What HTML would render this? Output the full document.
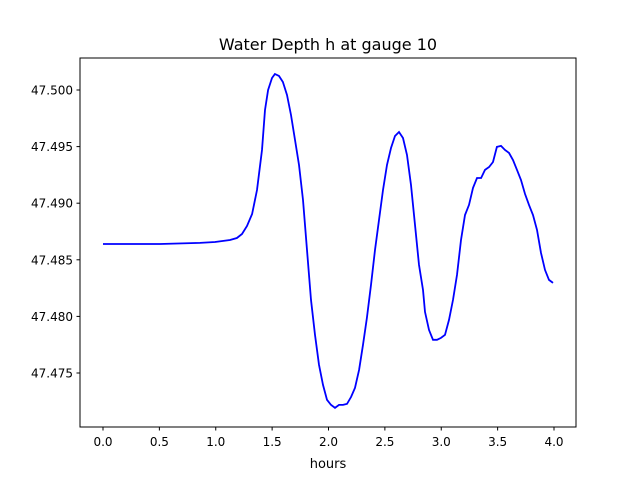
<!DOCTYPE html>
<html><head><meta charset="utf-8"><style>
body{margin:0;background:#fff;}
svg text{font-family:"DejaVu Sans","Liberation Sans",sans-serif;}
</style></head><body>
<svg id="chart" width="640" height="480" viewBox="0 0 640 480">
<rect width="640" height="480" fill="#fff"/>
<text x="328" y="50" font-size="16" text-anchor="middle">Water Depth h at gauge 10</text>
<g id="xt"></g>
<g id="yt"></g>
<polyline id="line" fill="none" stroke="#0000ff" stroke-width="1.8"/>
<rect x="80" y="58" width="496" height="369" fill="none" stroke="#000" stroke-width="1"/>
<text x="328" y="468" font-size="13" text-anchor="middle">hours</text>
</svg>
<script>
const timeHours=[0,0.506,0.860,0.993,1.126,1.188,1.233,1.277,1.322,1.366,1.410,1.437,1.464,1.499,1.525,1.561,1.596,1.632,1.667,1.703,1.738,1.774,1.809,1.845,1.880,1.916,1.951,1.987,2.022,2.058,2.093,2.129,2.164,2.200,2.235,2.271,2.306,2.341,2.377,2.412,2.448,2.483,2.519,2.554,2.590,2.625,2.661,2.696,2.732,2.767,2.803,2.838,2.856,2.891,2.927,2.962,2.998,3.033,3.069,3.104,3.140,3.175,3.211,3.246,3.282,3.317,3.353,3.388,3.424,3.459,3.494,3.530,3.565,3.601,3.636,3.672,3.707,3.743,3.778,3.814,3.849,3.885,3.920,3.956,3.991];
const depth=[47.48640,47.48640,47.48649,47.48657,47.48675,47.48693,47.48728,47.48799,47.48905,47.49117,47.49470,47.49823,47.50000,47.50106,47.50141,47.50124,47.50071,47.49956,47.49779,47.49559,47.49338,47.49029,47.48587,47.48146,47.47837,47.47572,47.47395,47.47263,47.47218,47.47192,47.47218,47.47218,47.47227,47.47289,47.47369,47.47528,47.47749,47.47987,47.48278,47.48587,47.48852,47.49117,47.49338,47.49488,47.49594,47.49629,47.49576,47.49426,47.49161,47.48808,47.48455,47.48234,47.48040,47.47881,47.47793,47.47793,47.47810,47.47837,47.47969,47.48146,47.48367,47.48675,47.48896,47.48985,47.49135,47.49223,47.49223,47.49294,47.49320,47.49364,47.49497,47.49506,47.49470,47.49444,47.49382,47.49294,47.49205,47.49082,47.48985,47.48896,47.48764,47.48561,47.48411,47.48322,47.48296];
const xTicks=[0,0.5,1,1.5,2,2.5,3,3.5,4];
const xTickLabels=["0.0","0.5","1.0","1.5","2.0","2.5","3.0","3.5","4.0"];
const yTicks=[47.475,47.480,47.485,47.490,47.495,47.500];
const yTickLabels=["47.475","47.480","47.485","47.490","47.495","47.500"];
const NS="http://www.w3.org/2000/svg";
const xs=t=>103+t*112.75;
const ys=h=>90+(47.5-h)*11320;
const xg=document.getElementById('xt'),yg=document.getElementById('yt');
function mk(tag,at,p){const e=document.createElementNS(NS,tag);for(const k in at)e.setAttribute(k,at[k]);p.appendChild(e);return e;}
xTicks.forEach((t,i)=>{
 const l=mk('line',{x1:xs(t),x2:xs(t),y1:427,y2:430.5,stroke:'#000'},xg);
 
 
 const tx=mk('text',{x:xs(t),y:446,'font-size':12,'text-anchor':'middle'},xg);
 tx.textContent=xTickLabels[i];
 
 
});
yTicks.forEach((v,i)=>{
 const l=mk('line',{x1:76.5,x2:80,y1:ys(v),y2:ys(v),stroke:'#000'},yg);
 
 
 const tx=mk('text',{x:73,y:ys(v)+4.5,'font-size':12,'text-anchor':'end'},yg);
 tx.textContent=yTickLabels[i];
 
 
});
document.getElementById('line').setAttribute('points',timeHours.map((t,i)=>xs(t).toFixed(1)+','+ys(depth[i]).toFixed(1)).join(' '));
</script>
</body></html>
